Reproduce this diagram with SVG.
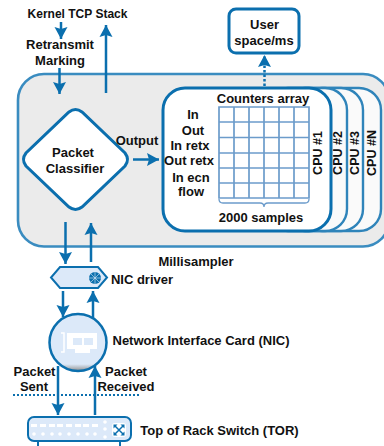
<svg xmlns="http://www.w3.org/2000/svg" width="384" height="446" viewBox="0 0 384 446">
<style>
text{font-family:"Liberation Sans",Arial,sans-serif;font-weight:700;fill:#111;text-anchor:middle}
.t{font-size:13px}
.s{font-size:12px}
.r{font-size:12.500px}
.c{stroke:#0b6fae;stroke-width:2.5;fill:none}
.card{fill:#fafafa;stroke:#2f84ba;stroke-width:2.4}
.g{stroke:#6c9ccb;stroke-width:1.7;fill:none}
.ic{fill:#fff}
</style>
<defs>
<marker id="a" markerUnits="userSpaceOnUse" markerWidth="14" markerHeight="14" refX="12" refY="7" orient="auto"><path d="M0 0.500L12 7L0 13.500L2 7Z" fill="#0b6fae"/></marker>
<linearGradient id="nic" x1="0" y1="0" x2="0" y2="1"><stop offset="0" stop-color="#dce9f9"/><stop offset="0.88" stop-color="#dce9f9"/><stop offset="1" stop-color="#8f8f8f"/></linearGradient>
</defs>
<rect id="millisampler" x="18" y="74" width="371" height="172.500" rx="26" fill="#ebebeb" stroke="#3a8cc0" stroke-width="2.600"/>
<g id="cpuN"><rect class="card" x="300" y="88" width="81" height="143" rx="22"/><text class="r" transform="translate(376,153) rotate(-90)">CPU #N</text></g>
<g id="cpu3"><rect class="card" x="283" y="88" width="80" height="143" rx="22"/><text class="r" transform="translate(358.500,153) rotate(-90)">CPU #3</text></g>
<g id="cpu2"><rect class="card" x="266" y="88" width="81" height="143" rx="22"/><text class="r" transform="translate(341.500,153) rotate(-90)">CPU #2</text></g>
<g id="cpu1">
<rect x="163" y="88" width="168" height="143" rx="22" fill="#fff" stroke="#0b6fae" stroke-width="3"/>
<text class="t" x="263" y="103">Counters array</text>
<text class="t" x="193" y="119">In</text><text class="t" x="193" y="135">Out</text><text class="t" x="190" y="150">In retx</text><text class="t" x="189" y="165">Out retx</text><text class="t" x="191" y="182">In ecn</text><text class="t" x="191" y="196">flow</text>
<path class="g" d="M219 107H309V198H219ZM234 107V198M249 107V198M264 107V198M279 107V198M294 107V198M219 122H309M219 137.500H309M219 153H309M219 168H309M219 183H309"/>
<path d="M219 199q0 4 4 4H260q4 0 4 4q0-4 4-4H305q4 0 4-4" fill="none" stroke="#6c9ccb" stroke-width="1.300"/>
<text class="t" x="261" y="222">2000 samples</text>
<text class="r" transform="translate(322,153) rotate(-90)">CPU #1</text>
</g>
<g id="classifier">
<path d="M69 112Q75.500 107 82 112L125 153Q130 159.500 125 166L82 207Q75.500 212 69 207L26 166Q21 159.500 26 153Z" fill="#fff" stroke="#0b6fae" stroke-width="3"/>
<text class="t" x="73" y="157">Packet</text><text class="t" x="75" y="173">Classifier</text>
</g>
<g id="user"><rect x="229" y="9" width="70" height="44" rx="7" fill="#fff" stroke="#0b6fae" stroke-width="3"/><text class="t" x="264.500" y="29">User</text><text class="t" x="264" y="45">space/ms</text></g>
<g id="nicdriver">
<path d="M60 267H98L107 277.500L98 288H60L51 277.500Z" fill="#dce9f9" stroke="#0b6fae" stroke-width="2"/>
<circle cx="95" cy="278" r="6" fill="#0b6fae"/><path d="M89 278H101M95 272V284M91 274L99 282M99 274L91 282" stroke="#dce9f9" stroke-width="0.600"/>
<text class="t" x="142" y="284">NIC driver</text>
</g>
<g id="nic-card">
<circle cx="78" cy="342.500" r="28.500" fill="url(#nic)" stroke="#0b6fae" stroke-width="2.500"/>
<path d="M61 333H64V352H61" fill="none" stroke="#fff" stroke-width="1.500"/>
<path class="ic" fill-rule="evenodd" d="M67 333H97V349H90V353H75V349H67ZM73 338V345H82V338ZM84 338V345H93V338Z"/>
<text class="t" x="201" y="345">Network Interface Card (NIC)</text>
</g>
<g id="tor">
<rect x="28" y="417" width="103" height="24" rx="6" fill="#dce9f9" stroke="#0b6fae" stroke-width="2"/>
<path d="M38 441V446M120 441V446" stroke="#0b6fae" stroke-width="2"/>
<g fill="#fff"><rect x="31" y="424" width="6" height="3"/><rect x="40" y="424" width="6" height="3"/><rect x="49" y="424" width="6" height="3"/><rect x="57" y="424" width="6" height="3"/><rect x="66" y="424" width="6" height="3"/><rect x="75" y="424" width="6" height="3"/><rect x="83" y="424" width="6" height="3"/><rect x="92" y="424" width="6" height="3"/>
<circle cx="34" cy="434" r="1.800"/><circle cx="43" cy="434" r="1.800"/><circle cx="52" cy="434" r="1.800"/><circle cx="60" cy="434" r="1.800"/><circle cx="69" cy="434" r="1.800"/><circle cx="78" cy="434" r="1.800"/><circle cx="87" cy="434" r="1.800"/><circle cx="95" cy="434" r="1.800"/>
<circle cx="105" cy="422" r="1.800"/><circle cx="105" cy="429" r="1.800"/><circle cx="105" cy="437" r="1.800"/><rect x="112" y="423" width="14" height="14" rx="3"/></g>
<path d="M115 426L123 434M123 426L115 434" stroke="#0b6fae" stroke-width="1.500"/>
<path d="M113.500 424.500H117.500L113.500 428.500ZM124.500 424.500V428.500L120.500 424.500ZM113.500 435.500V431.500L117.500 435.500ZM124.500 435.500H120.500L124.500 431.500Z" fill="#0b6fae"/>
<text class="t" x="219.500" y="435">Top of Rack Switch (TOR)</text>
</g>
<g id="connectors">
<path class="c" marker-end="url(#a)" d="M61 22V39"/>
<path class="c" marker-end="url(#a)" d="M106 93V25"/>
<path class="c" marker-end="url(#a)" d="M59.500 68V94"/>
<path class="c" marker-end="url(#a)" d="M133 159.500H159"/>
<path class="c" stroke-dasharray="2.500 2" marker-end="url(#a)" d="M264.500 86V55"/>
<path class="c" marker-end="url(#a)" d="M65.500 222V264"/>
<path class="c" marker-end="url(#a)" d="M91 262V223"/>
<path class="c" marker-end="url(#a)" d="M63 291V317"/>
<path class="c" marker-end="url(#a)" d="M93 318V291"/>
<path class="c" marker-end="url(#a)" d="M58 366V415"/>
<path class="c" marker-end="url(#a)" d="M95 415V366"/>
<path d="M13 395H141" stroke="#0b6fae" stroke-width="2" stroke-dasharray="2 2" fill="none"/>
</g>
<g id="labels">
<text class="s" x="77.500" y="18">Kernel TCP Stack</text>
<text class="t" x="60" y="49">Retransmit</text><text class="t" x="60" y="65">Marking</text>
<text class="t" x="137" y="145">Output</text>
<text class="t" x="196" y="266">Millisampler</text>
<text class="t" x="34.500" y="376">Packet</text><text class="t" x="34" y="391">Sent</text>
<text class="t" x="126" y="376">Packet</text><text class="t" x="126" y="391">Received</text>
</g>
</svg>
